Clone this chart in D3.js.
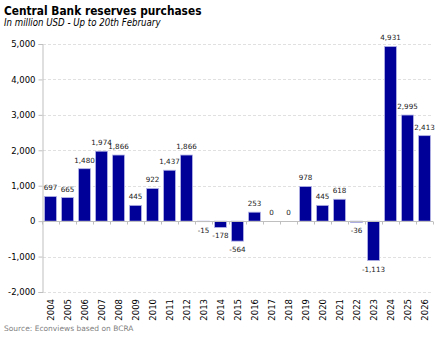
<!DOCTYPE html>
<html>
<head>
<meta charset="utf-8">
<script src="https://cdn.jsdelivr.net/npm/d3@7"></script>
<style>
  body { margin: 0; background: #fff; }
  svg { display: block; }
</style>
</head>
<body>
<div id="chart"></div>
<script>
// Central bank reserve purchases, million USD, per year
const years = ['2004', '2005', '2006', '2007', '2008', '2009', '2010', '2011', '2012', '2013', '2014', '2015',
               '2016', '2017', '2018', '2019', '2020', '2021', '2022', '2023', '2024', '2025', '2026'];
const purchases = [697, 665, 1480, 1974, 1866, 445, 922, 1437, 1866, -15, -178, -564,
                   253, 0, 0, 978, 445, 618, -36, -1113, 4931, 2995, 2413];
const yTicks = [-2000, -1000, 0, 1000, 2000, 3000, 4000, 5000];

const width = 443, height = 340;
const plot = { left: 42, right: 433, top: 44, bottom: 292 };

// plain hyphen for negatives
const locale = d3.formatLocale({ decimal: '.', thousands: ',', grouping: [3], currency: ['$', ''], minus: '-' });
const fmt = locale.format(',');

const svg = d3.select('#chart').append('svg')
    .attr('width', width)
    .attr('height', height)
    .style('font-family', '"DejaVu Sans", Verdana, sans-serif');

const data = years.map((y, i) => ({ year: y, value: purchases[i] }));

const x = d3.scaleBand()
    .domain(years)
    .range([plot.left, plot.right])
    .paddingInner(0.3)
    .paddingOuter(0.15);

const y = d3.scaleLinear()
    .domain([-2000, 5000])
    .range([plot.bottom, plot.top]);

// Title and subtitle
svg.append('text')
    .attr('x', 4).attr('y', 15)
    .style('font-family', '"DejaVu Sans Condensed", "DejaVu Sans", sans-serif')
    .style('font-weight', 'bold')
    .style('font-size', '11.8px')
    .style('fill', '#000')
    .text('Central Bank reserves purchases');

svg.append('text')
    .attr('x', 4).attr('y', 26)
    .style('font-family', '"DejaVu Sans Condensed", "DejaVu Sans", sans-serif')
    .style('font-style', 'italic')
    .style('font-size', '9.6px')
    .style('fill', '#000')
    .text('In million USD - Up to 20th February');

// Dashed gridlines
svg.append('g')
    .selectAll('line')
    .data(yTicks.filter(d => d !== 0))
    .join('line')
    .attr('x1', plot.left + 1).attr('x2', plot.right)
    .attr('y1', d => Math.round(y(d)) + 0.5)
    .attr('y2', d => Math.round(y(d)) + 0.5)
    .style('stroke', '#e0e0e0')
    .style('stroke-dasharray', '3,2')
    .style('stroke-width', 1);

// Y axis
const yAxis = d3.axisLeft(y)
    .tickValues(yTicks)
    .tickSize(4)
    .tickPadding(3)
    .tickFormat(fmt);

const yAxisG = svg.append('g')
    .attr('transform', `translate(${plot.left + 0.5},0)`)
    .call(yAxis);

yAxisG.select('.domain').style('stroke', '#bfbfbf');
yAxisG.selectAll('.tick line').style('stroke', '#bfbfbf');
yAxisG.selectAll('.tick text')
    .style('font-size', '8.5px')
    .style('fill', '#000')
    .style('font-family', '"DejaVu Sans", sans-serif');

// Bars
svg.append('g')
    .selectAll('rect')
    .data(data)
    .join('rect')
    .attr('x', d => x(d.year))
    .attr('width', x.bandwidth())
    .attr('y', d => y(Math.max(0, d.value)))
    .attr('height', d => Math.abs(y(d.value) - y(0)))
    .style('fill', '#000099')
    .style('stroke', '#b4b4e6')
    .style('stroke-width', 0.8);

// Zero line with category tick marks
const zeroY = Math.round(y(0)) + 0.5;
svg.append('line')
    .attr('x1', plot.left).attr('x2', plot.right)
    .attr('y1', zeroY).attr('y2', zeroY)
    .style('stroke', '#bfbfbf');

const step = x.step();
svg.append('g')
    .selectAll('line')
    .data(d3.range(years.length + 1))
    .join('line')
    .attr('x1', i => Math.round(plot.left + i * step) + 0.5)
    .attr('x2', i => Math.round(plot.left + i * step) + 0.5)
    .attr('y1', zeroY).attr('y2', zeroY + 3)
    .style('stroke', '#bfbfbf');

// Value labels
svg.append('g')
    .selectAll('text')
    .data(data)
    .join('text')
    .attr('x', d => x(d.year) + x.bandwidth() / 2)
    .attr('y', d => d.value >= 0 ? y(d.value) - 6 : y(d.value) + 11)
    .attr('text-anchor', 'middle')
    .style('font-size', '7.2px')
    .style('fill', '#222')
    .text(d => fmt(d.value));

// Year labels, rotated, under the plot
svg.append('g')
    .selectAll('text')
    .data(years)
    .join('text')
    .attr('transform', d => `translate(${x(d) + x.bandwidth() / 2 + 3},299) rotate(-90)`)
    .attr('text-anchor', 'end')
    .style('font-size', '8.5px')
    .style('fill', '#000')
    .text(d => d);

// Source note
svg.append('text')
    .attr('x', 4).attr('y', 331)
    .style('font-size', '7.5px')
    .style('fill', '#7f7f7f')
    .text('Source: Econviews based on BCRA');
</script>
</body>
</html>
